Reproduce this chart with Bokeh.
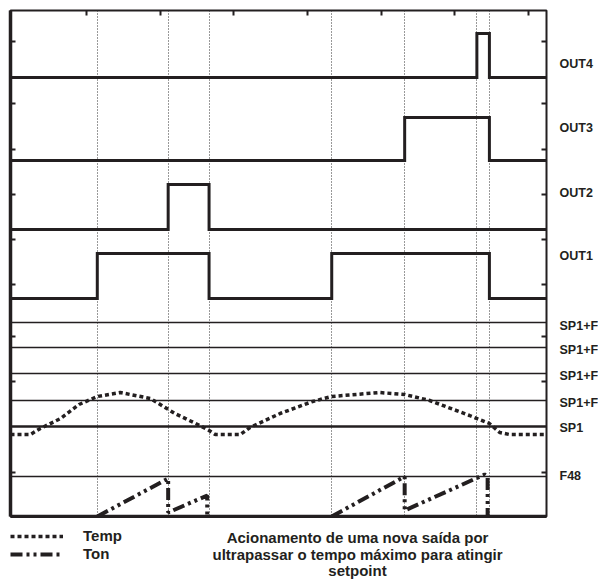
from bokeh.plotting import figure
from bokeh.layouts import column, row
from bokeh.models import Range1d, LinearAxis, FixedTicker, Legend, LegendItem
from bokeh.core.properties import value
from bokeh.embed import file_html
from bokeh.resources import INLINE

# ---- data (time in units of the top ticks, level in chart units) ----
time_ticks = [1, 2, 3, 4, 5, 6, 7]
side_ticks = [44, 135, 180, 232, 277, 322, 367, 413, 475]
event_times = [1.148, 2.11, 2.665, 4.33, 5.32, 6.30, 6.47]

out_names = ["OUT1", "OUT2", "OUT3", "OUT4"]
out_low = [218, 287, 356, 439]
out_high = [263, 332, 399, 483]
out_on = [
    [(1.148, 2.665), (4.33, 6.47)],
    [(2.11, 2.665)],
    [(5.32, 6.47)],
    [(6.30, 6.47)],
]

sp1 = 90
sp1_f_levels = [194, 169, 143, 116]
f48 = 40

temp_t = [-0.03, 0.24, 0.375, 0.65, 0.9, 1.148, 1.46, 1.87, 2.2, 2.54, 2.665, 2.75,
          3.09, 3.22, 3.63, 4.07, 4.33, 4.98, 5.32, 5.66, 6.2, 6.47, 6.61, 6.74, 7.245]
temp_v = [82, 82, 88, 98, 112, 120, 124, 118, 103, 91, 86, 82,
          82, 89, 103, 115, 120, 124, 122, 116, 101, 93, 84, 82, 82]

nan = float("nan")
ton_t = [1.148, 2.11, 2.11, 2.64, 2.64, nan, 4.33, 5.32, 5.32, 6.405, 6.446, 6.446]
ton_v = [0, 38, 4, 21, 0, nan, 0, 40, 6, 42, 40, 0]

label_names = ["OUT4", "OUT3", "OUT2", "OUT1", "SP1+F", "SP1+F", "SP1+F", "SP1+F", "SP1", "F48"]
label_levels = [453, 389, 324, 261, 191, 167, 141, 114, 89, 41]

caption_lines = ["Acionamento de uma nova saída por",
                 "ultrapassar o tempo máximo para atingir",
                 "setpoint"]
caption_x = 4.68
legend_labels = ["Temp", "Ton"]

INK = "#231f20"
FONT = "Liberation Sans"
TEMP_DASH = "4 3"
TON_DASH = "12 4 3 4 3 4"

W_MAIN, W_SIDE, H_MAIN, H_BOT = 548, 50, 518, 68
BL, BR, BT, BB = 10, 2, 10, 2
x0, x1 = -0.03, 7.245
y0, y1 = 0, 506

xr = Range1d(x0, x1)
yr = Range1d(y0, y1)
p = figure(width=W_MAIN, height=H_MAIN, x_range=xr, y_range=yr,
           output_backend="svg", toolbar_location=None,
           x_axis_location=None, y_axis_location=None,
           min_border_left=BL, min_border_right=BR, min_border_top=BT, min_border_bottom=BB,
           outline_line_color=INK, outline_line_width=2, background_fill_color="white")
p.grid.visible = False


def tick_axis(ticks, line_width, line_color):
    return LinearAxis(ticker=FixedTicker(ticks=ticks), major_tick_in=5, major_tick_out=0,
                      minor_tick_line_color=None, major_label_text_font_size="0px",
                      major_label_text_color=None, major_label_standoff=0,
                      axis_line_width=line_width, axis_line_color=line_color,
                      major_tick_line_width=2, major_tick_line_color=INK)


p.add_layout(tick_axis(time_ticks, 1, None), "above")
p.add_layout(tick_axis(side_ticks, 3.5, INK), "left")
p.add_layout(tick_axis(side_ticks, 1, None), "right")
p.add_layout(tick_axis([], 3.5, INK), "below")

# event markers
p.vspan(x=event_times, line_color="#333333", line_width=1, line_dash="1 2")

# threshold lines
p.hspan(y=sp1_f_levels + [f48], line_color=INK, line_width=1.5)
p.hspan(y=[sp1], line_color=INK, line_width=2.5)

# output lanes
xs, ys = [], []
for low, high, intervals in zip(out_low, out_high, out_on):
    sx, sy = [x0 - 0.2], [low]
    for a, b in intervals:
        sx += [a, a, b, b]
        sy += [low, high, high, low]
    sx.append(x1 + 0.2)
    sy.append(low)
    xs.append(sx)
    ys.append(sy)
p.multi_line(xs, ys, line_color=INK, line_width=3, line_join="miter")

p.line(temp_t, temp_v, line_color=INK, line_width=3.5, line_dash=TEMP_DASH)
p.line(ton_t, ton_v, line_color=INK, line_width=4, line_dash=TON_DASH)

# ---- right strip: signal names ----
p3 = figure(width=W_SIDE, height=H_MAIN, x_range=Range1d(0, W_SIDE), y_range=yr,
            output_backend="svg", toolbar_location=None,
            x_axis_location=None, y_axis_location=None,
            min_border_left=0, min_border_right=0, min_border_top=BT, min_border_bottom=BB,
            outline_line_color=None, background_fill_color="white")
p3.grid.visible = False
p3.text(x=[11] * len(label_names), y=label_levels, text=label_names,
        text_font=value(FONT), text_font_style="bold", text_font_size="12.5px",
        text_align="left", text_baseline="middle", text_color=INK)

# ---- bottom strip: legend and caption ----
row_h = 16.5
first_row = 19
p2 = figure(width=W_MAIN, height=H_BOT, x_range=xr,
            y_range=Range1d((H_BOT - first_row) / row_h, -first_row / row_h),
            output_backend="svg", toolbar_location=None,
            x_axis_location=None, y_axis_location=None,
            min_border_left=BL, min_border_right=BR, min_border_top=0, min_border_bottom=0,
            outline_line_color=None, background_fill_color="white")
p2.grid.visible = False

temp_leg = p2.line([nan], [nan], line_color=INK, line_width=3.5, line_dash=TEMP_DASH)
ton_leg = p2.line([nan], [nan], line_color=INK, line_width=4, line_dash=TON_DASH)
legend = Legend(items=[LegendItem(label=legend_labels[0], renderers=[temp_leg]),
                       LegendItem(label=legend_labels[1], renderers=[ton_leg])],
                location=(0, 24), orientation="vertical", glyph_width=53, glyph_height=16,
                label_height=16, label_standoff=20, spacing=1, padding=0, margin=0,
                border_line_color=None, background_fill_alpha=0,
                label_text_font=FONT, label_text_font_style="bold",
                label_text_font_size="15px", label_text_color=INK)
p2.add_layout(legend, "center")

p2.text(x=[caption_x] * len(caption_lines), y=list(range(len(caption_lines))), text=caption_lines,
        text_font=value(FONT), text_font_style="bold", text_font_size="15px",
        text_align="center", text_baseline="middle", text_color=INK)

layout = row(column(p, p2, spacing=0), p3, spacing=0)
open("out.html", "w").write(file_html(layout, INLINE))
